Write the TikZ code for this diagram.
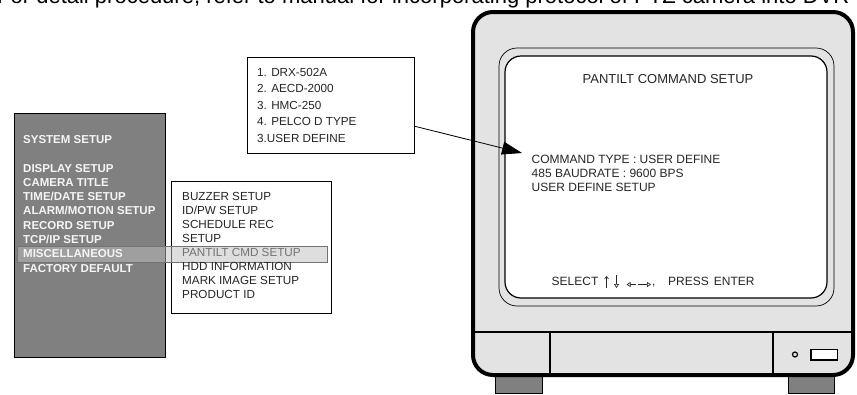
\documentclass[tikz,border=0pt]{standalone}
\usepackage{fontspec}
\setmainfont{Liberation Sans}
\usetikzlibrary{arrows.meta}

\begin{document}
\begin{tikzpicture}[x=1pt, y=-1pt,
	menutext/.style={anchor=base west, inner sep=0pt, font=\fontsize{11.7}{14}\selectfont, text=black!85},
	systext/.style={anchor=base west, inner sep=0pt, font=\bfseries\fontsize{11.5}{14}\selectfont, text=black!4},
	screentext/.style={anchor=base west, inner sep=0pt, font=\fontsize{12}{14}\selectfont, text=black!85},
	menubox/.style={draw, fill=white, line width=1pt, inner sep=0pt},
	keyarrow/.style={line width=0.6pt, black!85, -{Triangle[open, length=4pt, width=5pt]}}]
			%%%%% START %%%%%
			
			\useasboundingbox (0,0) rectangle (857,394);
			
			\node[anchor=base west, inner sep=0pt, font=\fontsize{22}{26}\selectfont] (note) at (-3,3.5) {For detail procedure, refer to manual for incorporating protocol of PTZ camera into DVR};
			
			% system setup menu
			\node[menubox, fill=black!50, line width=0.8pt, minimum width=151pt, minimum height=244pt] (sysmenu) at (89.5,235) {};
			\node[menubox, minimum width=160pt, minimum height=132pt] (submenu) at (251,247) {};
			
			\draw[black!55, line width=0.6pt, fill=black!25, fill opacity=0.5] (17,246) rectangle (327,262);
			
			\node[systext] (sys0) at (23,143) {SYSTEM SETUP};
			\foreach \t [count=\i] in {DISPLAY SETUP, CAMERA TITLE, TIME/DATE SETUP, ALARM/MOTION SETUP, RECORD SETUP, TCP/IP SETUP, MISCELLANEOUS, FACTORY DEFAULT}
				\node[systext] (sys\i) at (23,157.7+14.3*\i) {\t};
			
			\foreach \t [count=\i] in {BUZZER SETUP, ID/PW SETUP, SCHEDULE REC, SETUP}
				\node[menutext] (sub\i) at (182,186.7+14*\i) {\t};
			\node[menutext, text=black!55] (sub5) at (182,256.7) {PANTILT CMD SETUP};
			\foreach \t [count=\i from 6] in {HDD INFORMATION, MARK IMAGE SETUP, PRODUCT ID}
				\node[menutext] (sub\i) at (182,186.7+14*\i) {\t};
			
			% protocol list
			\node[menubox, line width=0.8pt, minimum width=167pt, minimum height=96pt] (opt) at (330.4,105.2) {};
			\foreach \t [count=\i] in {1. DRX-502A, 2. AECD-2000, 3. HMC-250, 4. PELCO D TYPE, 3.USER DEFINE}
				\node[menutext] (opt\i) at (257,59.5+16.5*\i) {\t};
			
			% monitor
			\draw[fill=black!50, line width=1pt] (495,370) rectangle (542,393);
			\draw[fill=black!50, line width=1pt] (788,370) rectangle (834,393);
			\draw[fill=black!11, line width=4pt, rounded corners=20pt] (473,12) rectangle (853,375);
			
			\draw[line width=1.2pt] (473,332) -- (853,332);
			\draw[line width=1.2pt] (550,332) -- (550,375);
			\draw[line width=1.2pt] (773,332) -- (773,375);
			
			\draw[fill=black!11, line width=0.7pt, rounded corners=18pt] (499,48) rectangle (834,306);
			\draw[fill=white, line width=1.2pt, rounded corners=16pt] (505,56) rectangle (827,298);
			
			\draw[line width=1.2pt] (795,354.5) circle[radius=2.5pt];
			\draw[fill=white, line width=1.2pt] (811,349.5) rectangle (837.5,360);
			
			% screen
			\node[anchor=base, inner sep=0pt, font=\fontsize{13}{15}\selectfont, text=black!85] (title) at (668,83) {PANTILT COMMAND SETUP};
			\node[screentext] (cmd) at (531.5,163) {COMMAND TYPE : USER DEFINE};
			\node[screentext] (baud) at (531.5,177) {485 BAUDRATE : 9600 BPS};
			\node[screentext] (user) at (531.5,191) {USER DEFINE SETUP};
			\node[screentext] (select) at (551.5,285) {SELECT};
			\node[screentext] (comma) at (652,285) {,};
			\node[screentext] (press) at (668,285) {PRESS\hspace{5pt}ENTER};
			
			\draw[line width=0.6pt, black!85, -{Straight Barb[length=2.5pt, width=4pt]}] (606.5,288) -- (606.5,276);
			\draw[keyarrow] (616.5,275) -- (616.5,288);
			\draw[keyarrow] (636,284.5) -- (626.5,284.5);
			\draw[keyarrow] (638,284.5) -- (651,284.5);
			
			\coordinate (tip) at (522,153);
			\draw[line width=0.8pt, -{Triangle[length=20pt, width=13pt]}] (opt.-14) -- (tip);
			
			%%%%% END %%%%%
\end{tikzpicture}
\end{document}
